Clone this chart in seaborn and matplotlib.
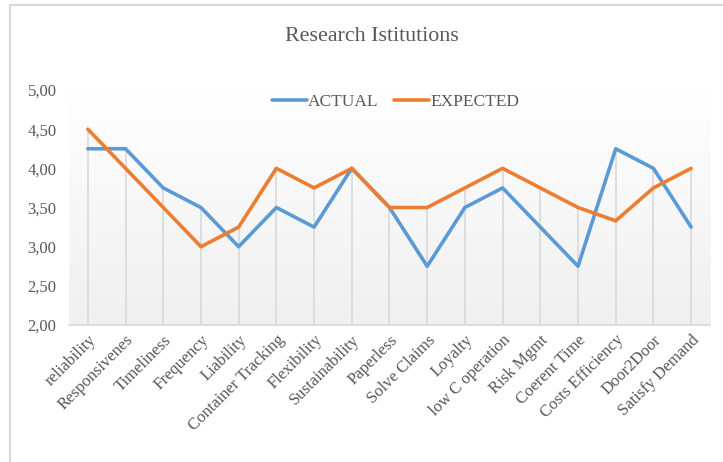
import numpy as np
import pandas as pd
import seaborn as sns
import matplotlib.pyplot as plt
from matplotlib.ticker import FuncFormatter, MultipleLocator
from matplotlib.lines import Line2D

categories = ['reliability', 'Responsivenes', 'Timeliness', 'Frequency', 'Liability',
              'Container Tracking', 'Flexibility', 'Sustainability', 'Paperless',
              'Solve Claims', 'Loyalty', 'low C operation', 'Risk Mgmt', 'Coerent Time',
              'Costs Efficiency', 'Door2Door', 'Satisfy Demand']
actual = [4.25, 4.25, 3.75, 3.5, 3.0, 3.5, 3.25, 4.0, 3.5, 2.75, 3.5, 3.75, 3.25, 2.75, 4.25, 4.0, 3.25]
expected = [4.5, 4.0, 3.5, 3.0, 3.25, 4.0, 3.75, 4.0, 3.5, 3.5, 3.75, 4.0, 3.75, 3.5, 3.33, 3.75, 4.0]

sns.set_style('white')
plt.rcParams['font.family'] = ['Liberation Serif', 'DejaVu Serif']
text_col = '#595959'

df = pd.DataFrame({
    'pos': list(range(len(categories))) * 2,
    'value': actual + expected,
    'series': ['ACTUAL'] * len(categories) + ['EXPECTED'] * len(categories),
})

fig = plt.figure(figsize=(7.23, 4.62), dpi=100)
ax = fig.add_axes([0.0954, 0.2965, 0.8866, 0.5087])

# soft gradient in the plot area
grad = np.linspace(0, 1, 256).reshape(-1, 1)
ax.imshow(grad, aspect='auto', cmap=plt.cm.colors.LinearSegmentedColormap.from_list('g', ['#ffffff', '#f0f0f0']),
          extent=(-0.5, len(categories) - 0.5, 2, 5), origin='upper', zorder=0)

# drop lines
tops = np.maximum(actual, expected)
ax.vlines(range(len(categories)), 2, tops, color='#d9d9d9', lw=1.2, zorder=1)

sns.lineplot(data=df, x='pos', y='value', hue='series',
             palette={'ACTUAL': '#5b9bd5', 'EXPECTED': '#ed7d31'},
             lw=2.6, ax=ax, legend=False, zorder=3)

ax.set_xlim(-0.5, len(categories) - 0.5)
ax.set_ylim(2, 5)
ax.yaxis.set_major_locator(MultipleLocator(0.5))
ax.yaxis.set_major_formatter(FuncFormatter(lambda v, p: f'{v:.2f}'.replace('.', ',')))
ax.set_xticks(range(len(categories)))
ax.set_xticklabels(categories, rotation=45, ha='right', rotation_mode='anchor')
ax.tick_params(axis='both', length=0, labelsize=12, colors=text_col)
ax.tick_params(axis='y', pad=9)
ax.tick_params(axis='x', pad=5)
for s in ['top', 'right', 'left']:
    ax.spines[s].set_visible(False)
ax.spines['bottom'].set_color('#d9d9d9')
ax.spines['bottom'].set_linewidth(1.2)
ax.set_xlabel('')
ax.set_ylabel('')

handles = [Line2D([], [], color='#5b9bd5', lw=2.6), Line2D([], [], color='#ed7d31', lw=2.6)]
ax.legend(handles, ['ACTUAL', 'EXPECTED'], loc='center', bbox_to_anchor=(0.51, 0.948),
          ncol=2, frameon=False, fontsize=12.5, labelcolor=text_col,
          handlelength=2.0, handletextpad=0.1, columnspacing=0.9)

fig.text(0.515, 0.922, 'Research Istitutions', ha='center', va='center', fontsize=15.8, color=text_col)

# chart border
fig.add_artist(Line2D([0.014, 1.0], [0.989, 0.989], color='#d9d9d9', lw=1.5))
fig.add_artist(Line2D([0.014, 0.014], [0.0, 0.989], color='#d9d9d9', lw=1.5))

plt.savefig('out.png', dpi=100)
